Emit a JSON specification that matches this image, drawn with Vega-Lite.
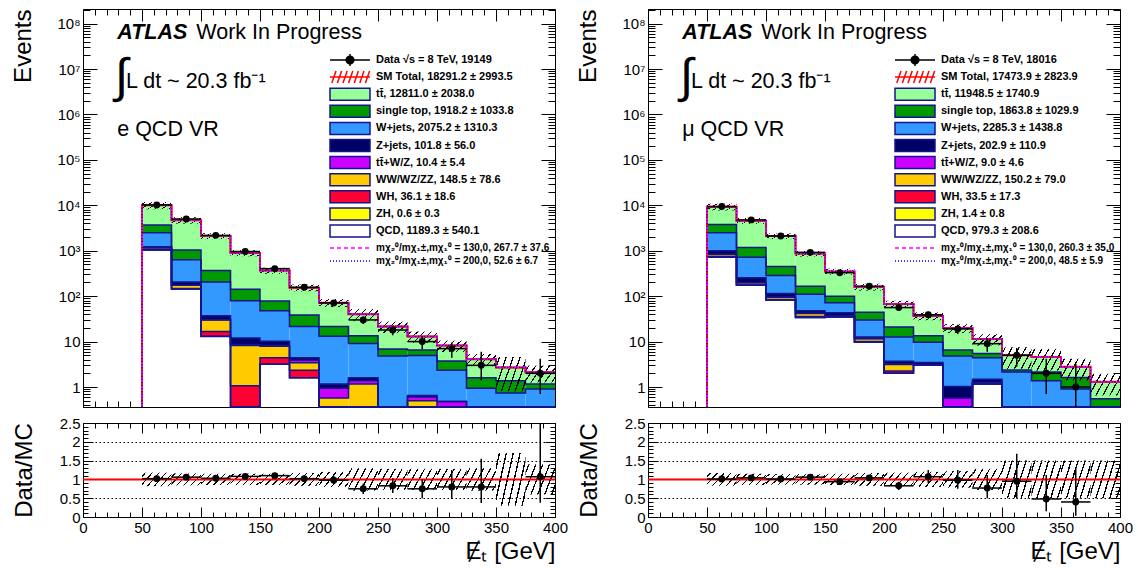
{
"$schema": "https://vega.github.io/schema/vega-lite/v6.json",
"padding": {"left": 11, "right": 5, "top": 8, "bottom": 2},
"config": {
  "view": {"stroke": "#000", "strokeWidth": 1},
  "font": "Liberation Sans",
  "axis": {"domain": false, "grid": false, "tickColor": "#000", "labelColor": "#000", "titleColor": "#000", "labelFont": "Liberation Sans", "titleFont": "Liberation Sans", "labelFontSize": 15, "titleFontSize": 24, "titleFontWeight": "normal", "tickWidth": 1, "labelOverlap": false, "labelFlush": false}
},
"datasets": {
  "hist": [
    {"p":"e","lo":25,"hi":50,"qcd":0,"zh":0,"wh":0,"vv":0,"ttv":0,"zj":0,"wj":0,"st":0,"tt":0},
    {"p":"e","lo":50,"hi":75,"qcd":1035,"zh":0.3,"wh":25,"vv":100,"ttv":3,"zj":60,"wj":1277,"st":1175,"tt":6325},
    {"p":"e","lo":75,"hi":100,"qcd":144,"zh":0.1,"wh":4,"vv":25,"ttv":1,"zj":31,"wj":432,"st":398,"tt":3685},
    {"p":"e","lo":100,"hi":125,"qcd":13,"zh":0.1,"wh":3.6,"vv":13,"ttv":0.5,"zj":6.8,"wj":168,"st":162,"tt":1751},
    {"p":"e","lo":125,"hi":150,"qcd":0,"zh":0,"wh":1.07,"vv":7.1,"ttv":0.5,"zj":3.3,"wj":67,"st":63,"tt":749},
    {"p":"e","lo":150,"hi":175,"qcd":3.16,"zh":0,"wh":1.24,"vv":3.5,"ttv":0.3,"zj":2.0,"wj":37.7,"st":30,"tt":289},
    {"p":"e","lo":175,"hi":200,"qcd":1.6,"zh":0,"wh":0.74,"vv":1.06,"ttv":0.5,"zj":0.5,"wj":17.1,"st":17.1,"tt":115},
    {"p":"e","lo":200,"hi":225,"qcd":0,"zh":0,"wh":0,"vv":0.57,"ttv":0.37,"zj":0.22,"wj":11.9,"st":8.4,"tt":50.5},
    {"p":"e","lo":225,"hi":250,"qcd":0,"zh":0,"wh":0,"vv":1.16,"ttv":0.21,"zj":0.23,"wj":7.45,"st":4.45,"tt":26.5},
    {"p":"e","lo":250,"hi":275,"qcd":0,"zh":0,"wh":0,"vv":0,"ttv":0,"zj":0,"wj":4.8,"st":2.1,"tt":14.6},
    {"p":"e","lo":275,"hi":300,"qcd":0,"zh":0,"wh":0,"vv":0.5,"ttv":0.1,"zj":0.05,"wj":4.3,"st":1.6,"tt":6.45},
    {"p":"e","lo":300,"hi":325,"qcd":0,"zh":0,"wh":0,"vv":0,"ttv":0.48,"zj":0,"wj":1.86,"st":1.39,"tt":4.5},
    {"p":"e","lo":325,"hi":350,"qcd":0,"zh":0,"wh":0,"vv":0,"ttv":0,"zj":0,"wj":0.94,"st":0.66,"tt":2.5},
    {"p":"e","lo":350,"hi":375,"qcd":0,"zh":0,"wh":0,"vv":0,"ttv":0,"zj":0,"wj":0.74,"st":0.63,"tt":1.33},
    {"p":"e","lo":375,"hi":400,"qcd":0,"zh":0,"wh":0,"vv":0,"ttv":0,"zj":0,"wj":0.9,"st":0.26,"tt":0.94},
    {"p":"m","lo":25,"hi":50,"qcd":0,"zh":0,"wh":0,"vv":0,"ttv":0,"zj":0,"wj":0,"st":0,"tt":0},
    {"p":"m","lo":50,"hi":75,"qcd":716,"zh":0.5,"wh":20,"vv":90,"ttv":3,"zj":170,"wj":1500,"st":1300,"tt":5500},
    {"p":"m","lo":75,"hi":100,"qcd":173,"zh":0.2,"wh":4,"vv":20,"ttv":1,"zj":57,"wj":461,"st":464,"tt":3420},
    {"p":"m","lo":100,"hi":125,"qcd":82,"zh":0.1,"wh":2,"vv":10,"ttv":0.5,"zj":20,"wj":172,"st":163,"tt":1651},
    {"p":"m","lo":125,"hi":150,"qcd":34,"zh":0.1,"wh":1.5,"vv":6,"ttv":0.4,"zj":6,"wj":62,"st":55,"tt":705},
    {"p":"m","lo":150,"hi":175,"qcd":35,"zh":0,"wh":0.5,"vv":1,"ttv":0.3,"zj":6.2,"wj":29,"st":28,"tt":250},
    {"p":"m","lo":175,"hi":200,"qcd":9.7,"zh":0,"wh":0.3,"vv":1.5,"ttv":0.2,"zj":0.9,"wj":17.4,"st":14,"tt":116},
    {"p":"m","lo":200,"hi":225,"qcd":2.0,"zh":0,"wh":0.25,"vv":0.9,"ttv":0.05,"zj":0.5,"wj":8.9,"st":8.3,"tt":46},
    {"p":"m","lo":225,"hi":250,"qcd":3.0,"zh":0,"wh":0,"vv":0.1,"ttv":0.05,"zj":0.3,"wj":6.25,"st":3.8,"tt":23.2},
    {"p":"m","lo":250,"hi":275,"qcd":0,"zh":0,"wh":0,"vv":0,"ttv":0.57,"zj":0.46,"wj":3.77,"st":1.7,"tt":13.3},
    {"p":"m","lo":275,"hi":300,"qcd":1.16,"zh":0,"wh":0,"vv":0.1,"ttv":0,"zj":0.23,"wj":2.9,"st":1.1,"tt":5.9},
    {"p":"m","lo":300,"hi":325,"qcd":0,"zh":0,"wh":0,"vv":0,"ttv":0,"zj":0,"wj":2.15,"st":0.23,"tt":2.6},
    {"p":"m","lo":325,"hi":350,"qcd":0,"zh":0,"wh":0,"vv":0,"ttv":0,"zj":0,"wj":1.37,"st":0.78,"tt":2.45},
    {"p":"m","lo":350,"hi":375,"qcd":0,"zh":0,"wh":0,"vv":0,"ttv":0,"zj":0,"wj":0.9,"st":0.72,"tt":1.18},
    {"p":"m","lo":375,"hi":400,"qcd":0,"zh":0,"wh":0,"vv":0,"ttv":0,"zj":0,"wj":0.3,"st":0.25,"tt":0.75}
  ],
  "band": [
    {"p":"e","lo":50,"hi":75,"dn":8200,"up":11800,"rdn":0.82,"rup":1.18},
    {"p":"e","lo":75,"hi":100,"dn":3965,"up":5475,"rdn":0.84,"rup":1.16},
    {"p":"e","lo":100,"hi":125,"dn":1800,"up":2436,"rdn":0.85,"rup":1.15},
    {"p":"e","lo":125,"hi":150,"dn":757,"up":1025,"rdn":0.85,"rup":1.15},
    {"p":"e","lo":150,"hi":175,"dn":312,"up":422,"rdn":0.85,"rup":1.15},
    {"p":"e","lo":175,"hi":200,"dn":127.5,"up":179.7,"rdn":0.83,"rup":1.17},
    {"p":"e","lo":200,"hi":225,"dn":57.6,"up":86.4,"rdn":0.8,"rup":1.2},
    {"p":"e","lo":225,"hi":250,"dn":28,"up":52,"rdn":0.7,"rup":1.3},
    {"p":"e","lo":250,"hi":275,"dn":15.5,"up":27.5,"rdn":0.72,"rup":1.28},
    {"p":"e","lo":275,"hi":300,"dn":9.4,"up":16.6,"rdn":0.72,"rup":1.28},
    {"p":"e","lo":300,"hi":325,"dn":5.9,"up":10.5,"rdn":0.72,"rup":1.28},
    {"p":"e","lo":325,"hi":350,"dn":2.87,"up":5.33,"rdn":0.7,"rup":1.3},
    {"p":"e","lo":350,"hi":375,"dn":0.81,"up":4.59,"rdn":0.3,"rup":1.7},
    {"p":"e","lo":375,"hi":400,"dn":1.26,"up":2.94,"rdn":0.6,"rup":1.4},
    {"p":"m","lo":50,"hi":75,"dn":7719,"up":10881,"rdn":0.83,"rup":1.17},
    {"p":"m","lo":75,"hi":100,"dn":3910,"up":5290,"rdn":0.85,"rup":1.15},
    {"p":"m","lo":100,"hi":125,"dn":1806,"up":2394,"rdn":0.86,"rup":1.14},
    {"p":"m","lo":125,"hi":150,"dn":748,"up":992,"rdn":0.86,"rup":1.14},
    {"p":"m","lo":150,"hi":175,"dn":297.5,"up":402.5,"rdn":0.85,"rup":1.15},
    {"p":"m","lo":175,"hi":200,"dn":132.8,"up":187.2,"rdn":0.83,"rup":1.17},
    {"p":"m","lo":200,"hi":225,"dn":54.9,"up":79.1,"rdn":0.82,"rup":1.18},
    {"p":"m","lo":225,"hi":250,"dn":29.4,"up":44,"rdn":0.8,"rup":1.2},
    {"p":"m","lo":250,"hi":275,"dn":15.4,"up":24.2,"rdn":0.78,"rup":1.22},
    {"p":"m","lo":275,"hi":300,"dn":8.2,"up":14.6,"rdn":0.72,"rup":1.28},
    {"p":"m","lo":300,"hi":325,"dn":2.5,"up":7.5,"rdn":0.5,"rup":1.5},
    {"p":"m","lo":325,"hi":350,"dn":2.3,"up":6.9,"rdn":0.5,"rup":1.5},
    {"p":"m","lo":350,"hi":375,"dn":1.4,"up":4.2,"rdn":0.5,"rup":1.5},
    {"p":"m","lo":375,"hi":400,"dn":0.65,"up":1.95,"rdn":0.5,"rup":1.5}
  ],
  "dat": [
    {"p":"e","x":62.5,"lo":50,"hi":75,"n":10200,"nlo":10099,"nhi":10301,"r":1.02,"rlo":1.01,"rhi":1.03},
    {"p":"e","x":87.5,"lo":75,"hi":100,"n":5000,"nlo":4929,"nhi":5071,"r":1.06,"rlo":1.045,"rhi":1.075},
    {"p":"e","x":112.5,"lo":100,"hi":125,"n":2180,"nlo":2133,"nhi":2227,"r":1.03,"rlo":1.005,"rhi":1.055},
    {"p":"e","x":137.5,"lo":125,"hi":150,"n":962,"nlo":931,"nhi":993,"r":1.08,"rlo":1.04,"rhi":1.12},
    {"p":"e","x":162.5,"lo":150,"hi":175,"n":404,"nlo":384,"nhi":424,"r":1.1,"rlo":1.05,"rhi":1.15},
    {"p":"e","x":187.5,"lo":175,"hi":200,"n":157,"nlo":144.5,"nhi":169.5,"r":1.02,"rlo":0.94,"rhi":1.1},
    {"p":"e","x":212.5,"lo":200,"hi":225,"n":71,"nlo":62.6,"nhi":79.4,"r":0.98,"rlo":0.87,"rhi":1.1},
    {"p":"e","x":237.5,"lo":225,"hi":250,"n":30,"nlo":24.5,"nhi":35.5,"r":0.75,"rlo":0.61,"rhi":0.89},
    {"p":"e","x":262.5,"lo":250,"hi":275,"n":18,"nlo":13.8,"nhi":22.2,"r":0.83,"rlo":0.64,"rhi":1.03},
    {"p":"e","x":287.5,"lo":275,"hi":300,"n":10,"nlo":6.8,"nhi":13.2,"r":0.75,"rlo":0.5,"rhi":1.0},
    {"p":"e","x":312.5,"lo":300,"hi":325,"n":7,"nlo":4.4,"nhi":9.6,"r":0.8,"rlo":0.48,"rhi":1.25},
    {"p":"e","x":337.5,"lo":325,"hi":350,"n":3,"nlo":1.4,"nhi":6.0,"r":0.8,"rlo":0.37,"rhi":1.55},
    {"p":"e","x":387.5,"lo":375,"hi":400,"n":2,"nlo":0.7,"nhi":4.2,"r":1.07,"rlo":0.38,"rhi":2.7},
    {"p":"m","x":62.5,"lo":50,"hi":75,"n":9400,"nlo":9303,"nhi":9497,"r":1.01,"rlo":1.0,"rhi":1.02},
    {"p":"m","x":87.5,"lo":75,"hi":100,"n":4780,"nlo":4711,"nhi":4849,"r":1.04,"rlo":1.025,"rhi":1.055},
    {"p":"m","x":112.5,"lo":100,"hi":125,"n":2120,"nlo":2074,"nhi":2166,"r":1.01,"rlo":0.985,"rhi":1.035},
    {"p":"m","x":137.5,"lo":125,"hi":150,"n":922,"nlo":892,"nhi":952,"r":1.06,"rlo":1.02,"rhi":1.1},
    {"p":"m","x":162.5,"lo":150,"hi":175,"n":329,"nlo":311,"nhi":347,"r":0.94,"rlo":0.885,"rhi":0.995},
    {"p":"m","x":187.5,"lo":175,"hi":200,"n":166,"nlo":153,"nhi":179,"r":1.04,"rlo":0.96,"rhi":1.12},
    {"p":"m","x":212.5,"lo":200,"hi":225,"n":56,"nlo":48.5,"nhi":63.5,"r":0.83,"rlo":0.72,"rhi":0.94},
    {"p":"m","x":237.5,"lo":225,"hi":250,"n":39,"nlo":32.8,"nhi":45.2,"r":1.07,"rlo":0.9,"rhi":1.25},
    {"p":"m","x":262.5,"lo":250,"hi":275,"n":19,"nlo":14.6,"nhi":23.4,"r":0.98,"rlo":0.75,"rhi":1.25},
    {"p":"m","x":287.5,"lo":275,"hi":300,"n":9,"nlo":6,"nhi":12,"r":0.77,"rlo":0.5,"rhi":1.12},
    {"p":"m","x":312.5,"lo":300,"hi":325,"n":5,"nlo":2.8,"nhi":7.2,"r":0.95,"rlo":0.5,"rhi":1.68},
    {"p":"m","x":337.5,"lo":325,"hi":350,"n":2,"nlo":0.7,"nhi":4.2,"r":0.48,"rlo":0.15,"rhi":1.12},
    {"p":"m","x":362.5,"lo":350,"hi":375,"n":1,"nlo":0.17,"nhi":3.3,"r":0.4,"rlo":0.03,"rhi":1.3}
  ]
},
"spacing": 7,
"resolve": {"scale": {"fill": "independent"}},
"hconcat": [
 {
  "spacing": 3,
  "resolve": {"scale": {"fill": "independent"}},
  "vconcat": [
   {
    "width": 472, "height": 398,
    "data": {"name": "hist"},
    "transform": [
      {"filter": "datum.p==='e'"},
      {"fold": ["qcd","zh","wh","vv","ttv","zj","wj","st","tt"], "as": ["c","v"]},
      {"stack": "v", "groupby": ["lo"], "as": ["y0","y1"]}
    ],
    "resolve": {"axis": {"x": "independent", "y": "independent"}},
    "layer": [
     {"mark": {"type": "rect"},
      "encoding": {
        "x": {"field": "lo", "type": "quantitative", "scale": {"domain": [0,400], "nice": false, "zero": false},
              "axis": {"orient": "bottom", "values": [0,50,100,150,200,250,300,350,400], "labels": false, "tickSize": -12, "title": null}},
        "x2": {"field": "hi"},
        "y": {"field": "y1", "type": "quantitative", "scale": {"type": "log", "domain": [0.363, 2.1e8], "clamp": true, "nice": false},
              "axis": {"orient": "left", "values": [1,10,100,1000,10000,100000,1000000,10000000,100000000],
                       "labelExpr": "datum.value < 5 ? '1' : datum.value < 50 ? '10' : '10' + ['','','²','³','⁴','⁵','⁶','⁷','⁸'][round(log(datum.value)/LN10)]",
                       "tickSize": -14, "labelPadding": 17, "title": "Events", "titleAnchor": "end", "titlePadding": 21}},
        "y2": {"field": "y0"},
        "fill": {"field": "c", "type": "nominal",
                 "scale": {"domain": ["data","sm","tt","st","wj","zj","ttv","vv","wh","zh","qcd","s1","s2"],
                           "range": ["#000000","transparent","#99ff99","#009900","#3399ff","#000066","#cc00ff","#ffcc00","#ff0033","#ffff00","#ffffff","transparent","transparent"]},
                 "legend": {"orient": "none", "legendX": 259, "legendY": 43, "title": null, "padding": 0,
                    "symbolType": "M-2.857,-0.857H2.857V0.857H-2.857Z", "symbolSize": 196, "symbolStrokeColor": "#14148c", "symbolStrokeWidth": 1.5, "symbolOpacity": 1,
                    "labelFont": "Liberation Sans", "labelFontSize": 11, "labelFontWeight": "bold", "labelOffset": 18, "labelLimit": 400, "rowPadding": -0.9,
                    "labelExpr": "['Data √s = 8 TeV, 19149','SM Total, 18291.2 ± 2993.5','tt̄, 12811.0 ± 2038.0','single top, 1918.2 ± 1033.8','W+jets, 2075.2 ± 1310.3','Z+jets, 101.8 ± 56.0','tt̄+W/Z, 10.4 ± 5.4','WW/WZ/ZZ, 148.5 ± 78.6','WH, 36.1 ± 18.6','ZH, 0.6 ± 0.3','QCD, 1189.3 ± 540.1','mχ₂⁰/mχ₁±,mχ₁⁰ = 130,0, 267.7 ± 37.6','mχ₂⁰/mχ₁±,mχ₁⁰ = 200,0, 52.6 ± 6.7'][indexof(['data','sm','tt','st','wj','zj','ttv','vv','wh','zh','qcd','s1','s2'], datum.value)]",
                    "encode": {
                      "labels": {"update": {"fontSize": [{"test": "datum.index>=11", "value": 10}, {"value": 11}]}},
                      "symbols": {"update": {
                       "shape": [{"test": "datum.index===0", "value": "M-2.857,0H2.857M0,-0.857V0.857M-0.55,0A0.55,0.55,0,1,0,0.55,0A0.55,0.55,0,1,0,-0.55,0Z"},
                                 {"test": "datum.index===1", "value": "M-2.857,0H2.857M-2.6,0.857L-2.0,-0.857M-1.8,0.857L-1.2,-0.857M-1.0,0.857L-0.4,-0.857M-0.2,0.857L0.4,-0.857M0.6,0.857L1.2,-0.857M1.4,0.857L2.0,-0.857M2.2,0.857L2.8,-0.857"},
                                 {"test": "datum.index>=11", "value": "M-2.857,0H2.857"},
                                 {"value": "M-2.857,-0.857H2.857V0.857H-2.857Z"}],
                       "stroke": [{"test": "datum.index===0", "value": "#000000"}, {"test": "datum.index===1", "value": "#ff0000"}, {"test": "datum.index===11", "value": "#ff00ff"}, {"test": "datum.index===12", "value": "#0000ff"}, {"value": "#14148c"}],
                       "strokeDash": [{"test": "datum.index===11", "value": [4,3]}, {"test": "datum.index===12", "value": [1,2]}, {"value": []}],
                       "strokeWidth": {"value": 1.5}
                    }}}}}
      }},
     {"mark": {"type": "line", "interpolate": "step-before", "color": "#14148c", "strokeWidth": 1.5},
      "encoding": {
        "x": {"field": "hi", "type": "quantitative", "axis": {"orient": "bottom", "values": [10,20,30,40,60,70,80,90,110,120,130,140,160,170,180,190,210,220,230,240,260,270,280,290,310,320,330,340,360,370,380,390], "labels": false, "tickSize": -6, "title": null}},
        "y": {"field": "y1", "type": "quantitative", "scale": {"type": "log"}, "axis": {"orient": "left", "values": [0.4,0.5,0.6,0.7,0.8,0.9,2,3,4,5,6,7,8,9,20,30,40,50,60,70,80,90,200,300,400,500,600,700,800,900,2000,3000,4000,5000,6000,7000,8000,9000,20000,30000,40000,50000,60000,70000,80000,90000,200000,300000,400000,500000,600000,700000,800000,900000,2000000,3000000,4000000,5000000,6000000,7000000,8000000,9000000,20000000,30000000,40000000,50000000,60000000,70000000,80000000,90000000,200000000], "labels": false, "tickSize": -7, "title": null}},
        "detail": {"field": "c"}
      }},
     {"data": {"name": "band"}, "transform": [{"filter": "datum.p==='e'"}],
      "mark": {"type": "rect", "fill": {"gradient": "linear", "x1": 0, "y1": 0, "x2": 1.207, "y2": 0.483, "stops": [
         {"offset":0,"color":"rgba(0,0,0,0)"},
         {"offset":0.067,"color":"rgba(0,0,0,0)"},{"offset":0.067,"color":"#000"},{"offset":0.1,"color":"#000"},{"offset":0.1,"color":"rgba(0,0,0,0)"},
         {"offset":0.233,"color":"rgba(0,0,0,0)"},{"offset":0.233,"color":"#000"},{"offset":0.267,"color":"#000"},{"offset":0.267,"color":"rgba(0,0,0,0)"},
         {"offset":0.4,"color":"rgba(0,0,0,0)"},{"offset":0.4,"color":"#000"},{"offset":0.433,"color":"#000"},{"offset":0.433,"color":"rgba(0,0,0,0)"},
         {"offset":0.567,"color":"rgba(0,0,0,0)"},{"offset":0.567,"color":"#000"},{"offset":0.6,"color":"#000"},{"offset":0.6,"color":"rgba(0,0,0,0)"},
         {"offset":0.733,"color":"rgba(0,0,0,0)"},{"offset":0.733,"color":"#000"},{"offset":0.767,"color":"#000"},{"offset":0.767,"color":"rgba(0,0,0,0)"},
         {"offset":0.9,"color":"rgba(0,0,0,0)"},{"offset":0.9,"color":"#000"},{"offset":0.933,"color":"#000"},{"offset":0.933,"color":"rgba(0,0,0,0)"},
         {"offset":1,"color":"rgba(0,0,0,0)"}]}},
      "encoding": {
        "x": {"field": "lo", "type": "quantitative", "axis": {"orient": "top", "values": [0,50,100,150,200,250,300,350,400], "labels": false, "tickSize": -12, "title": null}},
        "x2": {"field": "hi"},
        "y": {"field": "dn", "type": "quantitative", "scale": {"type": "log"}, "axis": {"orient": "right", "values": [1,10,100,1000,10000,100000,1000000,10000000,100000000], "labels": false, "tickSize": -14, "title": null}},
        "y2": {"field": "up"}
      }},
     {"transform": [{"filter": "datum.c==='tt'"}],
      "mark": {"type": "line", "interpolate": "step-before", "color": "#ff0000", "strokeWidth": 2},
      "encoding": {
        "x": {"field": "hi", "type": "quantitative", "axis": {"orient": "top", "values": [10,20,30,40,60,70,80,90,110,120,130,140,160,170,180,190,210,220,230,240,260,270,280,290,310,320,330,340,360,370,380,390], "labels": false, "tickSize": -6, "title": null}},
        "y": {"field": "y1", "type": "quantitative", "scale": {"type": "log"}, "axis": {"orient": "right", "values": [0.4,0.5,0.6,0.7,0.8,0.9,2,3,4,5,6,7,8,9,20,30,40,50,60,70,80,90,200,300,400,500,600,700,800,900,2000,3000,4000,5000,6000,7000,8000,9000,20000,30000,40000,50000,60000,70000,80000,90000,200000,300000,400000,500000,600000,700000,800000,900000,2000000,3000000,4000000,5000000,6000000,7000000,8000000,9000000,20000000,30000000,40000000,50000000,60000000,70000000,80000000,90000000,200000000], "labels": false, "tickSize": -7, "title": null}}
      }},
     {"transform": [{"filter": "datum.c==='tt'"}],
      "mark": {"type": "line", "interpolate": "step-before", "color": "#ff00ff", "strokeWidth": 1.5, "strokeDash": [5,3]},
      "encoding": {"x": {"field": "hi", "type": "quantitative", "axis": null}, "y": {"field": "y1", "type": "quantitative", "scale": {"type": "log"}, "axis": null}}},
     {"transform": [{"filter": "datum.c==='tt'"}],
      "mark": {"type": "line", "interpolate": "step-before", "color": "#0000ff", "strokeWidth": 1.3, "strokeDash": [1,2]},
      "encoding": {"x": {"field": "hi", "type": "quantitative", "axis": null}, "y": {"field": "y1", "type": "quantitative", "scale": {"type": "log"}, "axis": null}}},
     {"data": {"name": "dat"}, "transform": [{"filter": "datum.p==='e'"}],
      "mark": {"type": "rule", "color": "#000", "strokeWidth": 1.5},
      "encoding": {"x": {"field": "lo", "type": "quantitative", "axis": null}, "x2": {"field": "hi"}, "y": {"field": "n", "type": "quantitative", "scale": {"type": "log"}, "axis": null}}},
     {"data": {"name": "dat"}, "transform": [{"filter": "datum.p==='e'"}],
      "mark": {"type": "rule", "color": "#000", "strokeWidth": 1.5},
      "encoding": {"x": {"field": "x", "type": "quantitative", "axis": null}, "y": {"field": "nlo", "type": "quantitative", "scale": {"type": "log"}, "axis": null}, "y2": {"field": "nhi"}}},
     {"data": {"name": "dat"}, "transform": [{"filter": "datum.p==='e'"}],
      "mark": {"type": "circle", "color": "#000", "size": 48, "opacity": 1},
      "encoding": {"x": {"field": "x", "type": "quantitative", "axis": null}, "y": {"field": "n", "type": "quantitative", "scale": {"type": "log"}, "axis": null}}},
     {"data": {"values": [{}]},
      "mark": {"type": "text", "text": "ATLAS", "font": "Liberation Sans", "fontSize": 21.5, "fontWeight": "bold", "fontStyle": "italic", "align": "left", "baseline": "alphabetic", "color": "#000"},
      "encoding": {"x": {"datum": 29, "type": "quantitative", "axis": null}, "y": {"datum": 45000000, "type": "quantitative", "scale": {"type": "log"}, "axis": null}}},
     {"data": {"values": [{}]},
      "mark": {"type": "text", "text": "Work In Progress", "font": "Liberation Sans", "fontSize": 21.5, "align": "left", "baseline": "alphabetic", "color": "#000"},
      "encoding": {"x": {"datum": 96, "type": "quantitative", "axis": null}, "y": {"datum": 45000000, "type": "quantitative", "scale": {"type": "log"}, "axis": null}}},
     {"data": {"values": [{}]},
      "mark": {"type": "text", "text": "∫", "font": "Liberation Sans", "fontSize": 48, "align": "left", "baseline": "middle", "color": "#000"},
      "encoding": {"x": {"datum": 27, "type": "quantitative", "axis": null}, "y": {"datum": 6300000, "type": "quantitative", "scale": {"type": "log"}, "axis": null}}},
     {"data": {"values": [{}]},
      "mark": {"type": "text", "text": "L dt ~ 20.3 fb⁻¹", "font": "Liberation Sans", "fontSize": 21.5, "align": "left", "baseline": "alphabetic", "color": "#000"},
      "encoding": {"x": {"datum": 36.5, "type": "quantitative", "axis": null}, "y": {"datum": 3740000, "type": "quantitative", "scale": {"type": "log"}, "axis": null}}},
     {"data": {"values": [{}]},
      "mark": {"type": "text", "text": "e QCD VR", "font": "Liberation Sans", "fontSize": 21.5, "align": "left", "baseline": "alphabetic", "color": "#000"},
      "encoding": {"x": {"datum": 29, "type": "quantitative", "axis": null}, "y": {"datum": 333000, "type": "quantitative", "scale": {"type": "log"}, "axis": null}}}
    ]
   },
   {
    "width": 472, "height": 94,
    "resolve": {"axis": {"x": "independent", "y": "independent"}},
    "layer": [
     {"data": {"name": "band"}, "transform": [{"filter": "datum.p==='e'"}],
      "mark": {"type": "rect", "fill": {"gradient": "linear", "x1": 0, "y1": 0, "x2": 1.207, "y2": 0.483, "stops": [
         {"offset":0,"color":"rgba(0,0,0,0)"},
         {"offset":0.067,"color":"rgba(0,0,0,0)"},{"offset":0.067,"color":"#000"},{"offset":0.1,"color":"#000"},{"offset":0.1,"color":"rgba(0,0,0,0)"},
         {"offset":0.233,"color":"rgba(0,0,0,0)"},{"offset":0.233,"color":"#000"},{"offset":0.267,"color":"#000"},{"offset":0.267,"color":"rgba(0,0,0,0)"},
         {"offset":0.4,"color":"rgba(0,0,0,0)"},{"offset":0.4,"color":"#000"},{"offset":0.433,"color":"#000"},{"offset":0.433,"color":"rgba(0,0,0,0)"},
         {"offset":0.567,"color":"rgba(0,0,0,0)"},{"offset":0.567,"color":"#000"},{"offset":0.6,"color":"#000"},{"offset":0.6,"color":"rgba(0,0,0,0)"},
         {"offset":0.733,"color":"rgba(0,0,0,0)"},{"offset":0.733,"color":"#000"},{"offset":0.767,"color":"#000"},{"offset":0.767,"color":"rgba(0,0,0,0)"},
         {"offset":0.9,"color":"rgba(0,0,0,0)"},{"offset":0.9,"color":"#000"},{"offset":0.933,"color":"#000"},{"offset":0.933,"color":"rgba(0,0,0,0)"},
         {"offset":1,"color":"rgba(0,0,0,0)"}]}},
      "encoding": {
        "x": {"field": "lo", "type": "quantitative", "scale": {"domain": [0,400], "nice": false, "zero": false},
              "axis": {"orient": "bottom", "values": [0,50,100,150,200,250,300,350,400], "tickSize": -10, "labelPadding": 13, "title": "Ɇₜ [GeV]", "titleAnchor": "end", "titlePadding": 4}},
        "x2": {"field": "hi"},
        "y": {"field": "rdn", "type": "quantitative", "scale": {"domain": [0,2.5], "nice": false, "zero": false},
              "axis": {"orient": "left", "values": [0,0.5,1,1.5,2,2.5], "format": "~g", "tickSize": -10, "labelPadding": 13, "grid": true, "gridDash": [1.5,2.5], "gridColor": "#000", "gridWidth": 1, "title": "Data/MC", "titleAnchor": "middle", "titlePadding": 23}},
        "y2": {"field": "rup"}
      }},
     {"data": {"values": [{}]},
      "mark": {"type": "rule", "color": "#ff0000", "strokeWidth": 2},
      "encoding": {"y": {"datum": 1, "type": "quantitative", "axis": {"orient": "left", "values": [0.1,0.2,0.3,0.4,0.6,0.7,0.8,0.9,1.1,1.2,1.3,1.4,1.6,1.7,1.8,1.9,2.1,2.2,2.3,2.4], "labels": false, "tickSize": -5, "title": null}}}},
     {"data": {"name": "dat"}, "transform": [{"filter": "datum.p==='e'"}],
      "mark": {"type": "rule", "color": "#000", "strokeWidth": 1.5},
      "encoding": {
        "x": {"field": "lo", "type": "quantitative", "axis": {"orient": "bottom", "values": [10,20,30,40,60,70,80,90,110,120,130,140,160,170,180,190,210,220,230,240,260,270,280,290,310,320,330,340,360,370,380,390], "labels": false, "tickSize": -5, "title": null}},
        "x2": {"field": "hi"},
        "y": {"field": "r", "type": "quantitative", "axis": {"orient": "right", "values": [0,0.5,1,1.5,2,2.5], "labels": false, "tickSize": -10, "title": null}}
      }},
     {"data": {"name": "dat"}, "transform": [{"filter": "datum.p==='e'"}],
      "mark": {"type": "rule", "color": "#000", "strokeWidth": 1.5, "clip": true},
      "encoding": {
        "x": {"field": "x", "type": "quantitative", "axis": {"orient": "top", "values": [0,50,100,150,200,250,300,350,400], "labels": false, "tickSize": -10, "title": null}},
        "y": {"field": "rlo", "type": "quantitative", "axis": {"orient": "right", "values": [0.1,0.2,0.3,0.4,0.6,0.7,0.8,0.9,1.1,1.2,1.3,1.4,1.6,1.7,1.8,1.9,2.1,2.2,2.3,2.4], "labels": false, "tickSize": -5, "title": null}},
        "y2": {"field": "rhi"}
      }},
     {"data": {"name": "dat"}, "transform": [{"filter": "datum.p==='e'"}],
      "mark": {"type": "circle", "color": "#000", "size": 48, "opacity": 1},
      "encoding": {
        "x": {"field": "x", "type": "quantitative", "axis": {"orient": "top", "values": [10,20,30,40,60,70,80,90,110,120,130,140,160,170,180,190,210,220,230,240,260,270,280,290,310,320,330,340,360,370,380,390], "labels": false, "tickSize": -5, "title": null}},
        "y": {"field": "r", "type": "quantitative", "axis": null}
      }}
    ]
   }
  ]
 },
 {
  "spacing": 3,
  "resolve": {"scale": {"fill": "independent"}},
  "vconcat": [
   {
    "width": 472, "height": 398,
    "data": {"name": "hist"},
    "transform": [
      {"filter": "datum.p==='m'"},
      {"fold": ["qcd","zh","wh","vv","ttv","zj","wj","st","tt"], "as": ["c","v"]},
      {"stack": "v", "groupby": ["lo"], "as": ["y0","y1"]}
    ],
    "resolve": {"axis": {"x": "independent", "y": "independent"}},
    "layer": [
     {"mark": {"type": "rect"},
      "encoding": {
        "x": {"field": "lo", "type": "quantitative", "scale": {"domain": [0,400], "nice": false, "zero": false},
              "axis": {"orient": "bottom", "values": [0,50,100,150,200,250,300,350,400], "labels": false, "tickSize": -12, "title": null}},
        "x2": {"field": "hi"},
        "y": {"field": "y1", "type": "quantitative", "scale": {"type": "log", "domain": [0.363, 2.1e8], "clamp": true, "nice": false},
              "axis": {"orient": "left", "values": [1,10,100,1000,10000,100000,1000000,10000000,100000000],
                       "labelExpr": "datum.value < 5 ? '1' : datum.value < 50 ? '10' : '10' + ['','','²','³','⁴','⁵','⁶','⁷','⁸'][round(log(datum.value)/LN10)]",
                       "tickSize": -14, "labelPadding": 17, "title": "Events", "titleAnchor": "end", "titlePadding": 21}},
        "y2": {"field": "y0"},
        "fill": {"field": "c", "type": "nominal",
                 "scale": {"domain": ["data","sm","tt","st","wj","zj","ttv","vv","wh","zh","qcd","s1","s2"],
                           "range": ["#000000","transparent","#99ff99","#009900","#3399ff","#000066","#cc00ff","#ffcc00","#ff0033","#ffff00","#ffffff","transparent","transparent"]},
                 "legend": {"orient": "none", "legendX": 259, "legendY": 43, "title": null, "padding": 0,
                    "symbolType": "M-2.857,-0.857H2.857V0.857H-2.857Z", "symbolSize": 196, "symbolStrokeColor": "#14148c", "symbolStrokeWidth": 1.5, "symbolOpacity": 1,
                    "labelFont": "Liberation Sans", "labelFontSize": 11, "labelFontWeight": "bold", "labelOffset": 18, "labelLimit": 400, "rowPadding": -0.9,
                    "labelExpr": "['Data √s = 8 TeV, 18016','SM Total, 17473.9 ± 2823.9','tt̄, 11948.5 ± 1740.9','single top, 1863.8 ± 1029.9','W+jets, 2285.3 ± 1438.8','Z+jets, 202.9 ± 110.9','tt̄+W/Z, 9.0 ± 4.6','WW/WZ/ZZ, 150.2 ± 79.0','WH, 33.5 ± 17.3','ZH, 1.4 ± 0.8','QCD, 979.3 ± 208.6','mχ₂⁰/mχ₁±,mχ₁⁰ = 130,0, 260.3 ± 35.0','mχ₂⁰/mχ₁±,mχ₁⁰ = 200,0, 48.5 ± 5.9'][indexof(['data','sm','tt','st','wj','zj','ttv','vv','wh','zh','qcd','s1','s2'], datum.value)]",
                    "encode": {
                      "labels": {"update": {"fontSize": [{"test": "datum.index>=11", "value": 10}, {"value": 11}]}},
                      "symbols": {"update": {
                       "shape": [{"test": "datum.index===0", "value": "M-2.857,0H2.857M0,-0.857V0.857M-0.55,0A0.55,0.55,0,1,0,0.55,0A0.55,0.55,0,1,0,-0.55,0Z"},
                                 {"test": "datum.index===1", "value": "M-2.857,0H2.857M-2.6,0.857L-2.0,-0.857M-1.8,0.857L-1.2,-0.857M-1.0,0.857L-0.4,-0.857M-0.2,0.857L0.4,-0.857M0.6,0.857L1.2,-0.857M1.4,0.857L2.0,-0.857M2.2,0.857L2.8,-0.857"},
                                 {"test": "datum.index>=11", "value": "M-2.857,0H2.857"},
                                 {"value": "M-2.857,-0.857H2.857V0.857H-2.857Z"}],
                       "stroke": [{"test": "datum.index===0", "value": "#000000"}, {"test": "datum.index===1", "value": "#ff0000"}, {"test": "datum.index===11", "value": "#ff00ff"}, {"test": "datum.index===12", "value": "#0000ff"}, {"value": "#14148c"}],
                       "strokeDash": [{"test": "datum.index===11", "value": [4,3]}, {"test": "datum.index===12", "value": [1,2]}, {"value": []}],
                       "strokeWidth": {"value": 1.5}
                    }}}}}
      }},
     {"mark": {"type": "line", "interpolate": "step-before", "color": "#14148c", "strokeWidth": 1.5},
      "encoding": {
        "x": {"field": "hi", "type": "quantitative", "axis": {"orient": "bottom", "values": [10,20,30,40,60,70,80,90,110,120,130,140,160,170,180,190,210,220,230,240,260,270,280,290,310,320,330,340,360,370,380,390], "labels": false, "tickSize": -6, "title": null}},
        "y": {"field": "y1", "type": "quantitative", "scale": {"type": "log"}, "axis": {"orient": "left", "values": [0.4,0.5,0.6,0.7,0.8,0.9,2,3,4,5,6,7,8,9,20,30,40,50,60,70,80,90,200,300,400,500,600,700,800,900,2000,3000,4000,5000,6000,7000,8000,9000,20000,30000,40000,50000,60000,70000,80000,90000,200000,300000,400000,500000,600000,700000,800000,900000,2000000,3000000,4000000,5000000,6000000,7000000,8000000,9000000,20000000,30000000,40000000,50000000,60000000,70000000,80000000,90000000,200000000], "labels": false, "tickSize": -7, "title": null}},
        "detail": {"field": "c"}
      }},
     {"data": {"name": "band"}, "transform": [{"filter": "datum.p==='m'"}],
      "mark": {"type": "rect", "fill": {"gradient": "linear", "x1": 0, "y1": 0, "x2": 1.207, "y2": 0.483, "stops": [
         {"offset":0,"color":"rgba(0,0,0,0)"},
         {"offset":0.067,"color":"rgba(0,0,0,0)"},{"offset":0.067,"color":"#000"},{"offset":0.1,"color":"#000"},{"offset":0.1,"color":"rgba(0,0,0,0)"},
         {"offset":0.233,"color":"rgba(0,0,0,0)"},{"offset":0.233,"color":"#000"},{"offset":0.267,"color":"#000"},{"offset":0.267,"color":"rgba(0,0,0,0)"},
         {"offset":0.4,"color":"rgba(0,0,0,0)"},{"offset":0.4,"color":"#000"},{"offset":0.433,"color":"#000"},{"offset":0.433,"color":"rgba(0,0,0,0)"},
         {"offset":0.567,"color":"rgba(0,0,0,0)"},{"offset":0.567,"color":"#000"},{"offset":0.6,"color":"#000"},{"offset":0.6,"color":"rgba(0,0,0,0)"},
         {"offset":0.733,"color":"rgba(0,0,0,0)"},{"offset":0.733,"color":"#000"},{"offset":0.767,"color":"#000"},{"offset":0.767,"color":"rgba(0,0,0,0)"},
         {"offset":0.9,"color":"rgba(0,0,0,0)"},{"offset":0.9,"color":"#000"},{"offset":0.933,"color":"#000"},{"offset":0.933,"color":"rgba(0,0,0,0)"},
         {"offset":1,"color":"rgba(0,0,0,0)"}]}},
      "encoding": {
        "x": {"field": "lo", "type": "quantitative", "axis": {"orient": "top", "values": [0,50,100,150,200,250,300,350,400], "labels": false, "tickSize": -12, "title": null}},
        "x2": {"field": "hi"},
        "y": {"field": "dn", "type": "quantitative", "scale": {"type": "log"}, "axis": {"orient": "right", "values": [1,10,100,1000,10000,100000,1000000,10000000,100000000], "labels": false, "tickSize": -14, "title": null}},
        "y2": {"field": "up"}
      }},
     {"transform": [{"filter": "datum.c==='tt'"}],
      "mark": {"type": "line", "interpolate": "step-before", "color": "#ff0000", "strokeWidth": 2},
      "encoding": {
        "x": {"field": "hi", "type": "quantitative", "axis": {"orient": "top", "values": [10,20,30,40,60,70,80,90,110,120,130,140,160,170,180,190,210,220,230,240,260,270,280,290,310,320,330,340,360,370,380,390], "labels": false, "tickSize": -6, "title": null}},
        "y": {"field": "y1", "type": "quantitative", "scale": {"type": "log"}, "axis": {"orient": "right", "values": [0.4,0.5,0.6,0.7,0.8,0.9,2,3,4,5,6,7,8,9,20,30,40,50,60,70,80,90,200,300,400,500,600,700,800,900,2000,3000,4000,5000,6000,7000,8000,9000,20000,30000,40000,50000,60000,70000,80000,90000,200000,300000,400000,500000,600000,700000,800000,900000,2000000,3000000,4000000,5000000,6000000,7000000,8000000,9000000,20000000,30000000,40000000,50000000,60000000,70000000,80000000,90000000,200000000], "labels": false, "tickSize": -7, "title": null}}
      }},
     {"transform": [{"filter": "datum.c==='tt'"}],
      "mark": {"type": "line", "interpolate": "step-before", "color": "#ff00ff", "strokeWidth": 1.5, "strokeDash": [5,3]},
      "encoding": {"x": {"field": "hi", "type": "quantitative", "axis": null}, "y": {"field": "y1", "type": "quantitative", "scale": {"type": "log"}, "axis": null}}},
     {"transform": [{"filter": "datum.c==='tt'"}],
      "mark": {"type": "line", "interpolate": "step-before", "color": "#0000ff", "strokeWidth": 1.3, "strokeDash": [1,2]},
      "encoding": {"x": {"field": "hi", "type": "quantitative", "axis": null}, "y": {"field": "y1", "type": "quantitative", "scale": {"type": "log"}, "axis": null}}},
     {"data": {"name": "dat"}, "transform": [{"filter": "datum.p==='m'"}],
      "mark": {"type": "rule", "color": "#000", "strokeWidth": 1.5},
      "encoding": {"x": {"field": "lo", "type": "quantitative", "axis": null}, "x2": {"field": "hi"}, "y": {"field": "n", "type": "quantitative", "scale": {"type": "log"}, "axis": null}}},
     {"data": {"name": "dat"}, "transform": [{"filter": "datum.p==='m'"}],
      "mark": {"type": "rule", "color": "#000", "strokeWidth": 1.5},
      "encoding": {"x": {"field": "x", "type": "quantitative", "axis": null}, "y": {"field": "nlo", "type": "quantitative", "scale": {"type": "log"}, "axis": null}, "y2": {"field": "nhi"}}},
     {"data": {"name": "dat"}, "transform": [{"filter": "datum.p==='m'"}],
      "mark": {"type": "circle", "color": "#000", "size": 48, "opacity": 1},
      "encoding": {"x": {"field": "x", "type": "quantitative", "axis": null}, "y": {"field": "n", "type": "quantitative", "scale": {"type": "log"}, "axis": null}}},
     {"data": {"values": [{}]},
      "mark": {"type": "text", "text": "ATLAS", "font": "Liberation Sans", "fontSize": 21.5, "fontWeight": "bold", "fontStyle": "italic", "align": "left", "baseline": "alphabetic", "color": "#000"},
      "encoding": {"x": {"datum": 29, "type": "quantitative", "axis": null}, "y": {"datum": 45000000, "type": "quantitative", "scale": {"type": "log"}, "axis": null}}},
     {"data": {"values": [{}]},
      "mark": {"type": "text", "text": "Work In Progress", "font": "Liberation Sans", "fontSize": 21.5, "align": "left", "baseline": "alphabetic", "color": "#000"},
      "encoding": {"x": {"datum": 96, "type": "quantitative", "axis": null}, "y": {"datum": 45000000, "type": "quantitative", "scale": {"type": "log"}, "axis": null}}},
     {"data": {"values": [{}]},
      "mark": {"type": "text", "text": "∫", "font": "Liberation Sans", "fontSize": 48, "align": "left", "baseline": "middle", "color": "#000"},
      "encoding": {"x": {"datum": 27, "type": "quantitative", "axis": null}, "y": {"datum": 6300000, "type": "quantitative", "scale": {"type": "log"}, "axis": null}}},
     {"data": {"values": [{}]},
      "mark": {"type": "text", "text": "L dt ~ 20.3 fb⁻¹", "font": "Liberation Sans", "fontSize": 21.5, "align": "left", "baseline": "alphabetic", "color": "#000"},
      "encoding": {"x": {"datum": 36.5, "type": "quantitative", "axis": null}, "y": {"datum": 3740000, "type": "quantitative", "scale": {"type": "log"}, "axis": null}}},
     {"data": {"values": [{}]},
      "mark": {"type": "text", "text": "μ QCD VR", "font": "Liberation Sans", "fontSize": 21.5, "align": "left", "baseline": "alphabetic", "color": "#000"},
      "encoding": {"x": {"datum": 29, "type": "quantitative", "axis": null}, "y": {"datum": 333000, "type": "quantitative", "scale": {"type": "log"}, "axis": null}}}
    ]
   },
   {
    "width": 472, "height": 94,
    "resolve": {"axis": {"x": "independent", "y": "independent"}},
    "layer": [
     {"data": {"name": "band"}, "transform": [{"filter": "datum.p==='m'"}],
      "mark": {"type": "rect", "fill": {"gradient": "linear", "x1": 0, "y1": 0, "x2": 1.207, "y2": 0.483, "stops": [
         {"offset":0,"color":"rgba(0,0,0,0)"},
         {"offset":0.067,"color":"rgba(0,0,0,0)"},{"offset":0.067,"color":"#000"},{"offset":0.1,"color":"#000"},{"offset":0.1,"color":"rgba(0,0,0,0)"},
         {"offset":0.233,"color":"rgba(0,0,0,0)"},{"offset":0.233,"color":"#000"},{"offset":0.267,"color":"#000"},{"offset":0.267,"color":"rgba(0,0,0,0)"},
         {"offset":0.4,"color":"rgba(0,0,0,0)"},{"offset":0.4,"color":"#000"},{"offset":0.433,"color":"#000"},{"offset":0.433,"color":"rgba(0,0,0,0)"},
         {"offset":0.567,"color":"rgba(0,0,0,0)"},{"offset":0.567,"color":"#000"},{"offset":0.6,"color":"#000"},{"offset":0.6,"color":"rgba(0,0,0,0)"},
         {"offset":0.733,"color":"rgba(0,0,0,0)"},{"offset":0.733,"color":"#000"},{"offset":0.767,"color":"#000"},{"offset":0.767,"color":"rgba(0,0,0,0)"},
         {"offset":0.9,"color":"rgba(0,0,0,0)"},{"offset":0.9,"color":"#000"},{"offset":0.933,"color":"#000"},{"offset":0.933,"color":"rgba(0,0,0,0)"},
         {"offset":1,"color":"rgba(0,0,0,0)"}]}},
      "encoding": {
        "x": {"field": "lo", "type": "quantitative", "scale": {"domain": [0,400], "nice": false, "zero": false},
              "axis": {"orient": "bottom", "values": [0,50,100,150,200,250,300,350,400], "tickSize": -10, "labelPadding": 13, "title": "Ɇₜ [GeV]", "titleAnchor": "end", "titlePadding": 4}},
        "x2": {"field": "hi"},
        "y": {"field": "rdn", "type": "quantitative", "scale": {"domain": [0,2.5], "nice": false, "zero": false},
              "axis": {"orient": "left", "values": [0,0.5,1,1.5,2,2.5], "format": "~g", "tickSize": -10, "labelPadding": 13, "grid": true, "gridDash": [1.5,2.5], "gridColor": "#000", "gridWidth": 1, "title": "Data/MC", "titleAnchor": "middle", "titlePadding": 23}},
        "y2": {"field": "rup"}
      }},
     {"data": {"values": [{}]},
      "mark": {"type": "rule", "color": "#ff0000", "strokeWidth": 2},
      "encoding": {"y": {"datum": 1, "type": "quantitative", "axis": {"orient": "left", "values": [0.1,0.2,0.3,0.4,0.6,0.7,0.8,0.9,1.1,1.2,1.3,1.4,1.6,1.7,1.8,1.9,2.1,2.2,2.3,2.4], "labels": false, "tickSize": -5, "title": null}}}},
     {"data": {"name": "dat"}, "transform": [{"filter": "datum.p==='m'"}],
      "mark": {"type": "rule", "color": "#000", "strokeWidth": 1.5},
      "encoding": {
        "x": {"field": "lo", "type": "quantitative", "axis": {"orient": "bottom", "values": [10,20,30,40,60,70,80,90,110,120,130,140,160,170,180,190,210,220,230,240,260,270,280,290,310,320,330,340,360,370,380,390], "labels": false, "tickSize": -5, "title": null}},
        "x2": {"field": "hi"},
        "y": {"field": "r", "type": "quantitative", "axis": {"orient": "right", "values": [0,0.5,1,1.5,2,2.5], "labels": false, "tickSize": -10, "title": null}}
      }},
     {"data": {"name": "dat"}, "transform": [{"filter": "datum.p==='m'"}],
      "mark": {"type": "rule", "color": "#000", "strokeWidth": 1.5, "clip": true},
      "encoding": {
        "x": {"field": "x", "type": "quantitative", "axis": {"orient": "top", "values": [0,50,100,150,200,250,300,350,400], "labels": false, "tickSize": -10, "title": null}},
        "y": {"field": "rlo", "type": "quantitative", "axis": {"orient": "right", "values": [0.1,0.2,0.3,0.4,0.6,0.7,0.8,0.9,1.1,1.2,1.3,1.4,1.6,1.7,1.8,1.9,2.1,2.2,2.3,2.4], "labels": false, "tickSize": -5, "title": null}},
        "y2": {"field": "rhi"}
      }},
     {"data": {"name": "dat"}, "transform": [{"filter": "datum.p==='m'"}],
      "mark": {"type": "circle", "color": "#000", "size": 48, "opacity": 1},
      "encoding": {
        "x": {"field": "x", "type": "quantitative", "axis": {"orient": "top", "values": [10,20,30,40,60,70,80,90,110,120,130,140,160,170,180,190,210,220,230,240,260,270,280,290,310,320,330,340,360,370,380,390], "labels": false, "tickSize": -5, "title": null}},
        "y": {"field": "r", "type": "quantitative", "axis": null}
      }}
    ]
   }
  ]
 }
]
}
